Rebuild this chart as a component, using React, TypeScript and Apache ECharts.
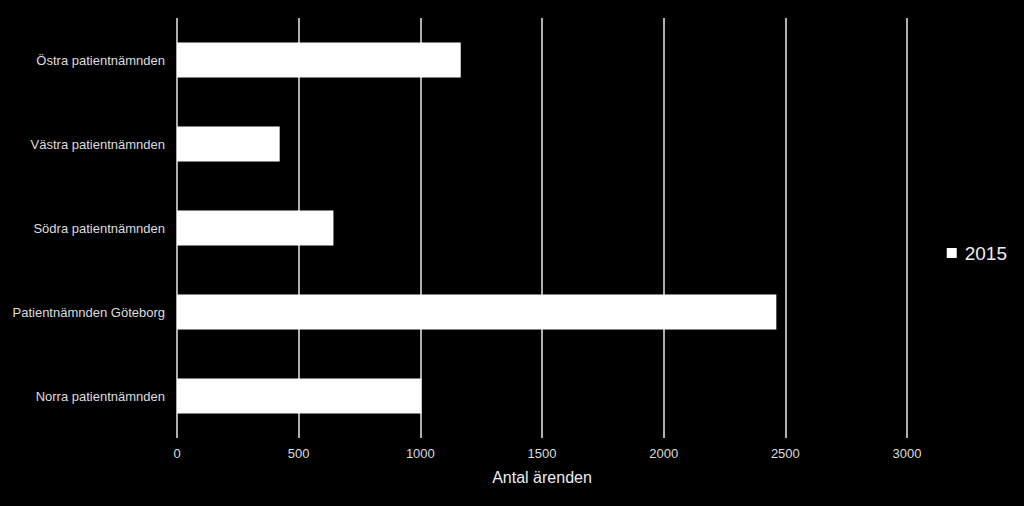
import React, { useRef, useEffect } from "react";
import * as echarts from "echarts";

const categories = [
  "Norra patientnämnden",
  "Patientnämnden Göteborg",
  "Södra patientnämnden",
  "Västra patientnämnden",
  "Östra patientnämnden",
];
const values2015 = [1004, 2463, 643, 422, 1166];
const seriesName = "2015";
const axisName = "Antal ärenden";

const App = function () {
  const chart = useRef<HTMLDivElement>(null);
  useEffect(() => {
    if (!chart.current) return;
    const myChart = echarts.init(chart.current, null, { renderer: "svg" });
    const option = {
      animation: false,
      backgroundColor: "#000",
      textStyle: { fontFamily: "Liberation Sans, Arial, sans-serif" },
      grid: { left: 177, right: 117, top: 18, bottom: 68 },
      legend: {
        data: [seriesName],
        right: 17,
        top: "middle",
        icon: "rect",
        itemWidth: 10,
        itemHeight: 10,
        padding: 0,
        textStyle: { color: "#eee", fontSize: 19, padding: [0, 0, 0, 3] },
      },
      xAxis: {
        type: "value",
        min: 0,
        max: 3000,
        interval: 500,
        name: axisName,
        nameLocation: "middle",
        nameGap: 31,
        nameTextStyle: { color: "#eee", fontSize: 16 },
        axisLine: { show: false },
        axisTick: { show: false },
        axisLabel: {
          color: "#ddd",
          fontSize: 13,
          margin: 9,
          formatter: (v: number) => String(v),
        },
        splitLine: { lineStyle: { color: "#e8e8e8", width: 1.5 } },
      },
      yAxis: {
        type: "category",
        data: categories,
        axisLine: { show: false },
        axisTick: { show: false },
        axisLabel: { color: "#ddd", fontSize: 13, margin: 12 },
      },
      series: [
        {
          name: seriesName,
          type: "bar",
          data: values2015,
          barWidth: 35,
          itemStyle: { color: "#fff" },
        },
      ],
    };
    myChart.setOption(option);
    return () => {
      myChart.dispose();
    };
  }, []);
  return (
    <div
      ref={chart}
      style={{ position: "fixed", left: 0, top: 0, width: 1024, height: 506 }}
    ></div>
  );
};
export default App;
